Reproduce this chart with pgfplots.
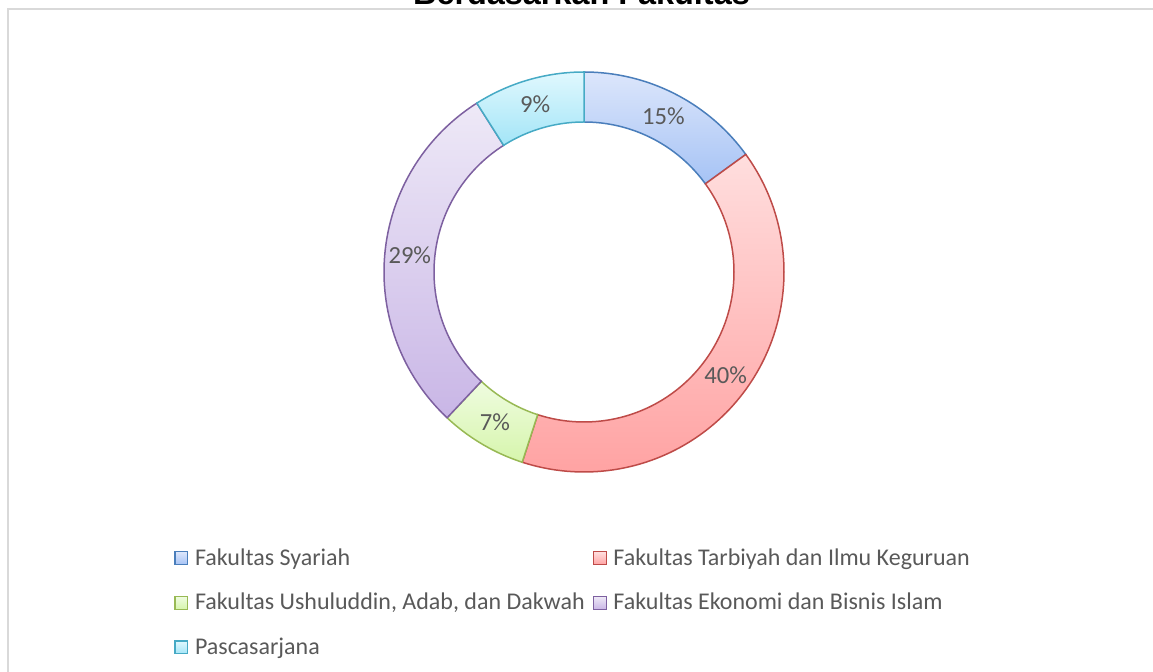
\documentclass[border=0pt]{standalone}
\usepackage{pgfplots}
\pgfplotsset{compat=1.18}
\usepackage{pgfplotstable}
\usepackage{fontspec}
\setmainfont{Carlito}
\newfontfamily\titlefont{Liberation Sans}

\definecolor{txtgrey}{HTML}{595959}
\definecolor{framegrey}{HTML}{D9D9D9}
\definecolor{bluet}{HTML}{DCE6FB}\definecolor{blueb}{HTML}{A6C3F5}\definecolor{bluel}{HTML}{4A7EBB}
\definecolor{redt}{HTML}{FFDEDE}\definecolor{redb}{HTML}{FFA3A3}\definecolor{redl}{HTML}{BE4B48}
\definecolor{greent}{HTML}{EFFCE0}\definecolor{greenb}{HTML}{D6F5AC}\definecolor{greenl}{HTML}{98B954}
\definecolor{purplet}{HTML}{EEE9F7}\definecolor{purpleb}{HTML}{C9B6E6}\definecolor{purplel}{HTML}{7D60A0}
\definecolor{cyant}{HTML}{E0F8FE}\definecolor{cyanb}{HTML}{A3E5F7}\definecolor{cyanl}{HTML}{46AAC5}

\pgfplotstableread[col sep=semicolon]{
name;value
Fakultas Syariah;15
Fakultas Tarbiyah dan Ilmu Keguruan;40
Fakultas Ushuluddin, Adab, dan Dakwah;7
Fakultas Ekonomi dan Bisnis Islam;29
Pascasarjana;9
}\donut

% segment: #1 start angle, #2 end angle, #3 top colour, #4 bottom colour, #5 border
\newcommand\seg[5]{%
\addplot[draw=#5, line width=0.75pt, top color=#3, bottom color=#4, no markers,
  domain=0:201, samples=202, variable=\t]
  ({584+ifthenelse(\t<=100,200,150)*cos(ifthenelse(\t<=100,#1+(#2-#1)*\t/100,#2-(#2-#1)*(\t-101)/100))},
   {272-ifthenelse(\t<=100,200,150)*sin(ifthenelse(\t<=100,#1+(#2-#1)*\t/100,#2-(#2-#1)*(\t-101)/100))}) -- cycle;
}
\newcommand\lab[3]{% #1 start, #2 end, #3 value
\pgfmathsetmacro\mid{(#1+#2)/2}%
\pgfmathsetmacro\lx{584+175*cos(\mid)}%
\pgfmathsetmacro\ly{272-175*sin(\mid)}%
\edef\temp{\noexpand\node[text=txtgrey, font=\noexpand\fontsize{12.3}{14}\noexpand\selectfont] at (axis cs:\lx,\ly) {#3\noexpand\%};}%
\temp
}

\begin{document}
\begin{tikzpicture}
\pgfplotstablegetelem{0}{value}\of\donut \pgfmathtruncatemacro\vA{\pgfplotsretval}
\pgfplotstablegetelem{1}{value}\of\donut \pgfmathtruncatemacro\vB{\pgfplotsretval}
\pgfplotstablegetelem{2}{value}\of\donut \pgfmathtruncatemacro\vC{\pgfplotsretval}
\pgfplotstablegetelem{3}{value}\of\donut \pgfmathtruncatemacro\vD{\pgfplotsretval}
\pgfplotstablegetelem{4}{value}\of\donut \pgfmathtruncatemacro\vE{\pgfplotsretval}
\pgfmathsetmacro\tot{\vA+\vB+\vC+\vD+\vE}
\pgfmathsetmacro\aO{90}
\pgfmathsetmacro\aA{\aO-360*\vA/\tot}
\pgfmathsetmacro\aB{\aA-360*\vB/\tot}
\pgfmathsetmacro\aC{\aB-360*\vC/\tot}
\pgfmathsetmacro\aD{\aC-360*\vD/\tot}
\pgfmathsetmacro\aE{\aD-360*\vE/\tot}
\begin{axis}[
  name=ax,
  width=576.5pt, height=336pt, scale only axis,
  xmin=0, xmax=1153, ymin=0, ymax=672, y dir=reverse,
  hide axis,
  legend columns=2,
  legend cell align=left,
  legend image code/.code={\draw[#1, line width=0.6pt] (0pt,-3.2pt) rectangle (6.4pt,3.2pt);},
  legend style={at={(axis cs:174,545)}, anchor=north west, draw=none, fill=none,
    font=\fontsize{12}{14}\selectfont, text=txtgrey, inner sep=0pt,
    row sep=9.5pt,
    nodes={inner sep=1.5pt},
    /tikz/every odd column/.append style={column sep=1.8pt},
    /tikz/every even column/.append style={column sep=2.5pt}},
]
\draw[framegrey, line width=1pt] (axis cs:7.5,9.5) rectangle (axis cs:1200,720);
\node[font=\titlefont\bfseries\fontsize{16.2}{19}\selectfont, anchor=base] at (axis cs:581.5,4.5) {Berdasarkan Fakultas};

\seg{\aO}{\aA}{bluet}{blueb}{bluel}
\addlegendentry{Fakultas Syariah}
\seg{\aA}{\aB}{redt}{redb}{redl}
\addlegendentry{Fakultas Tarbiyah dan Ilmu Keguruan}
\seg{\aB}{\aC}{greent}{greenb}{greenl}
\addlegendentry{Fakultas Ushuluddin, Adab, dan Dakwah}
\seg{\aC}{\aD}{purplet}{purpleb}{purplel}
\addlegendentry{Fakultas Ekonomi dan Bisnis Islam}
\seg{\aD}{\aE}{cyant}{cyanb}{cyanl}
\addlegendentry{Pascasarjana}

\lab{\aO}{\aA}{\vA}
\lab{\aA}{\aB}{\vB}
\lab{\aB}{\aC}{\vC}
\lab{\aC}{\aD}{\vD}
\lab{\aD}{\aE}{\vE}
\end{axis}
\pgfresetboundingbox
\useasboundingbox (ax.south west) rectangle (ax.north east);
\end{tikzpicture}
\end{document}
